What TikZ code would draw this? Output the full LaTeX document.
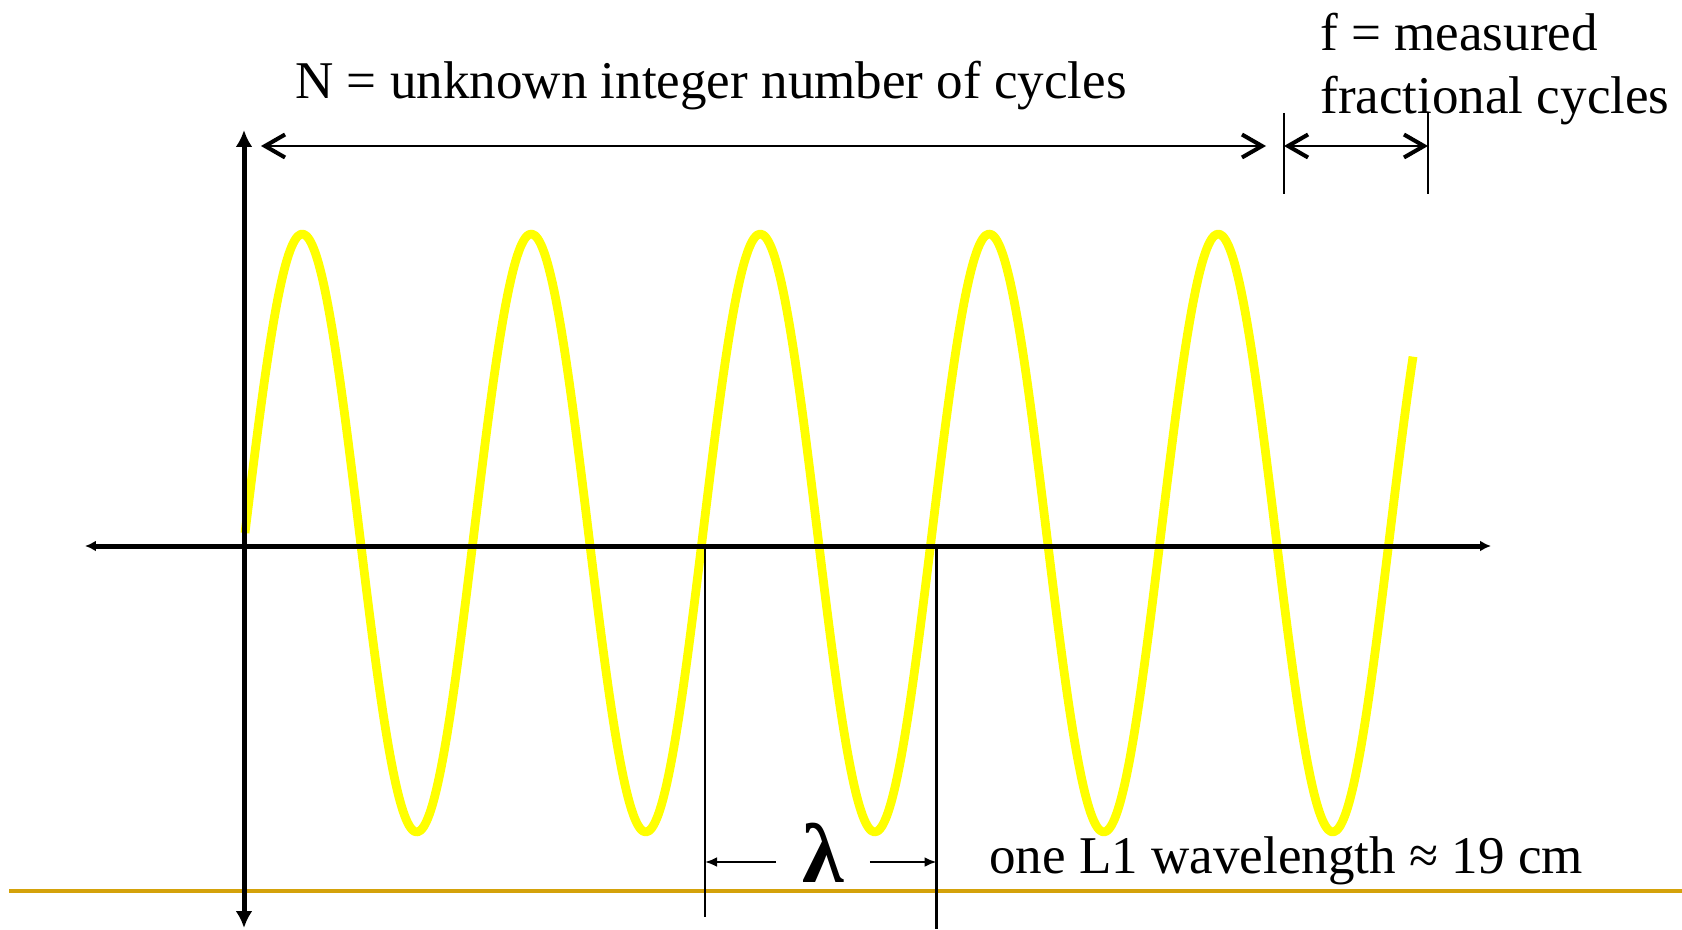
\documentclass[tikz,border=0pt]{standalone}
\usepackage{fontspec}
\setmainfont{Liberation Serif}
\usetikzlibrary{arrows.meta,positioning}
\definecolor{CycWave}{HTML}{FFFF00}
\definecolor{CycRule}{HTML}{D4A20A}
\definecolor{CycInk}{HTML}{000000}
\tikzset{
  cyc axis/.style={draw=CycInk,line width=2.85pt},
  cyc wave/.style={draw=CycWave,line width=5pt,line join=round},
  cyc rule/.style={draw=CycRule,line width=2pt},
  cyc span/.style={{Straight Barb[length=0.4cm,width=0.46cm,line width'=2.3pt]}-{Straight Barb[length=0.4cm,width=0.46cm,line width'=2.3pt]},draw=CycInk,line width=1.1pt},
  cyc tick/.style={draw=CycInk,line width=1.6pt},
  cyc lam arrow/.style={-{Latex[length=0.24cm,width=0.2cm]},draw=CycInk,line width=1.6pt},
  cyc label/.style={
    text=CycInk,
    inner sep=0pt,
    font=\fontsize{30.2}{36}\selectfont
  }
}
\begin{document}
\begin{tikzpicture}[x=0.02cm,y=-0.02cm]
  \useasboundingbox (0,0) rectangle (1682,929);

  % axes and rule
  \coordinate (ytop) at (244,130);
  \coordinate (ybot) at (244,928);
  \coordinate (xleft) at (85,546);
  \coordinate (xright) at (1491,546);
  \coordinate (ruleleft) at (9,891);
  \coordinate (ruleright) at (1682,891);
  \draw[cyc rule] (ruleleft) -- (ruleright);

  % carrier wave
  \draw[cyc wave] plot[domain=245:1413,samples=400,smooth] (\x,{533-299*sin(((\x-245)/229)*360)});

  \draw[cyc axis,{Latex[length=0.22cm,width=0.22cm]}-{Latex[length=0.22cm,width=0.22cm]}] (xleft) -- (xright);
  \draw[cyc axis,{Latex[length=0.34cm,width=0.34cm]}-{Latex[length=0.34cm,width=0.34cm]}] (ybot) -- (ytop);

  % integer and fractional spans
  \coordinate (nleft) at (261,146);
  \coordinate (nright) at (1266,146);
  \coordinate (ftop) at (1284,113);
  \coordinate (fbot) at (1284,194);
  \coordinate (gtop) at (1428,113);
  \coordinate (gbot) at (1428,194);
  \draw[cyc tick] (ftop) -- (fbot);
  \draw[cyc tick] (gtop) -- (gbot);
  \draw[cyc span] (nleft) -- (nright);
  \draw[cyc span] (ftop |- nleft) -- (gtop |- nleft);

  \node[cyc label,anchor=base west] (intlabel) at (295,99) {N = unknown integer number of cycles};
  \node[cyc label,anchor=north west,align=left] (fraclabel) at (1320,13) {f = measured\\fractional cycles};

  % one wavelength
  \coordinate (lamltop) at (705,546);
  \coordinate (lamlbot) at (705,917);
  \coordinate (lamrtop) at (936.5,546);
  \coordinate (lamrbot) at (936.5,929);
  \coordinate (lamy) at (0,862);
  \draw[cyc tick] (lamltop) -- (lamlbot);
  \draw[cyc tick] (lamrtop) -- (lamrbot);
  \node[cyc label,font=\fontsize{48}{56}\selectfont\bfseries,minimum width=1.86cm,anchor=base] (lam) at (823,882) {λ};
  \draw[cyc lam arrow] (lam.west |- lamy) -- (lamltop |- lamy);
  \draw[cyc lam arrow] (lam.east |- lamy) -- (lamrtop |- lamy);
  \node[cyc label,anchor=base west] (wavelabel) at (989,873) {one L1 wavelength ≈ 19 cm};
\end{tikzpicture}
\end{document}
